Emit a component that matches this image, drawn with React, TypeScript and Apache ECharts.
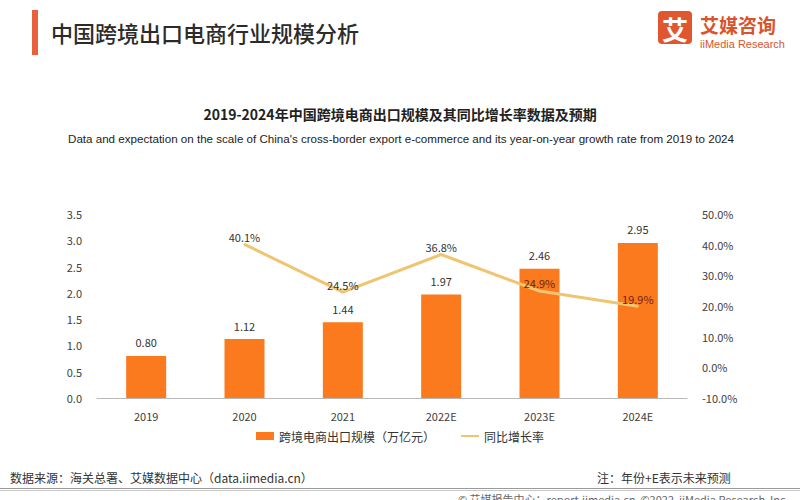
import React, { useEffect, useRef } from "react";
import * as echarts from "echarts";

const categories = ["2019", "2020", "2021", "2022E", "2023E", "2024E"];
const scaleValues = [0.8, 1.12, 1.44, 1.97, 2.46, 2.95];
const growthValues: (number | string)[] = ["-", 40.1, 24.5, 36.8, 24.9, 19.9];
const barName = "跨境电商出口规模（万亿元）";
const lineName = "同比增长率";

const CJK = '"Noto Sans CJK SC", "Noto Sans", sans-serif';

export default function App() {
  const ref = useRef<HTMLDivElement>(null);
  useEffect(() => {
    document.body.style.margin = "0";
    const chart = echarts.init(ref.current!, null, { renderer: "svg" });
    const lineData = growthValues.map((v, i) =>
      typeof v === "number" && scaleValues[i] * 52.6 > (v + 10) * 3.07 - 8
        ? { value: v, label: { color: "#6e2412" } }
        : v
    );
    chart.setOption({
      animation: false,
      backgroundColor: "#ffffff",
      textStyle: { fontFamily: CJK },
      grid: { left: 97, right: 113, top: 214, bottom: 102, containLabel: false },
      legend: {
        left: "center",
        top: 425,
        itemWidth: 18,
        itemHeight: 8,
        itemGap: 26,
        textStyle: { fontSize: 12, color: "#333", fontFamily: CJK },
        data: [
          { name: barName, icon: "rect" },
          { name: lineName, icon: "path://M0,0 L18,0 L18,2 L0,2 Z" },
        ],
      },
      xAxis: {
        type: "category",
        data: categories,
        axisLine: { lineStyle: { color: "#b8b8b8", width: 1 } },
        axisTick: { show: false },
        axisLabel: { color: "#404040", fontSize: 11, margin: 12 },
      },
      yAxis: [
        {
          type: "value",
          min: 0,
          max: 3.5,
          interval: 0.5,
          splitLine: { show: false },
          axisLine: { show: false },
          axisTick: { show: false },
          axisLabel: {
            color: "#404040",
            fontSize: 11,
            margin: 15,
            formatter: (v: number) => v.toFixed(1),
          },
        },
        {
          type: "value",
          min: -10,
          max: 50,
          interval: 10,
          splitLine: { show: false },
          axisLine: { show: false },
          axisTick: { show: false },
          axisLabel: {
            color: "#404040",
            fontSize: 11,
            margin: 15,
            formatter: (v: number) => v.toFixed(1) + "%",
          },
        },
      ],
      series: [
        {
          name: barName,
          type: "bar",
          data: scaleValues,
          barWidth: 40,
          itemStyle: { color: "#FC7A1E" },
          label: {
            show: true,
            position: "top",
            distance: 8,
            color: "#333",
            fontSize: 11,
            formatter: (p: any) => Number(p.value).toFixed(2),
          },
        },
        {
          name: lineName,
          type: "line",
          yAxisIndex: 1,
          data: lineData,
          symbol: "circle",
          symbolSize: 2,
          itemStyle: { color: "#EFC572" },
          lineStyle: { color: "#EFC572", width: 3 },
          label: {
            show: true,
            position: "top",
            distance: 1,
            color: "#333",
            fontSize: 11,
            formatter: (p: any) => Number(p.value).toFixed(1) + "%",
          },
        },
      ],
      graphic: [
        { type: "rect", shape: { x: 32, y: 10, width: 6, height: 45 }, style: { fill: "#E8603C" } },
        {
          type: "text",
          x: 51,
          y: 32,
          style: { text: "中国跨境出口电商行业规模分析", fontSize: 22, fill: "#2b2b2b", fontFamily: CJK, fontWeight: 500, verticalAlign: "middle" },
        },
        { type: "rect", shape: { x: 658, y: 11, width: 34, height: 33, r: 4 }, style: { fill: "#E0572F" } },
        {
          type: "text",
          x: 675,
          y: 28,
          style: { text: "艾", fontSize: 26, fill: "#ffffff", fontWeight: "bold", fontFamily: CJK, align: "center", verticalAlign: "middle" },
        },
        {
          type: "text",
          x: 700,
          y: 24,
          style: { text: "艾媒咨询", fontSize: 19, fill: "#D9542C", fontWeight: "bold", fontFamily: CJK, verticalAlign: "middle" },
        },
        {
          type: "text",
          x: 700,
          y: 44,
          style: { text: "iiMedia Research", fontSize: 11, fill: "#D9542C", fontFamily: "Liberation Sans, Arial, sans-serif", verticalAlign: "middle" },
        },
        {
          type: "text",
          x: 400,
          y: 114,
          style: { text: "2019-2024年中国跨境电商出口规模及其同比增长率数据及预期", fontSize: 14, fontWeight: "bold", fill: "#222", fontFamily: CJK, align: "center", verticalAlign: "middle" },
        },
        {
          type: "text",
          x: 401,
          y: 138,
          style: { text: "Data and expectation on the scale of China's cross-border export e-commerce and its year-on-year growth rate from 2019 to 2024", fontSize: 11.6, fill: "#222", fontFamily: "Liberation Sans, Arial, sans-serif", align: "center", verticalAlign: "middle" },
        },
        {
          type: "text",
          x: 10,
          y: 477,
          style: { text: "数据来源：海关总署、艾媒数据中心（data.iimedia.cn）", fontSize: 12, fill: "#333", fontFamily: CJK, verticalAlign: "middle" },
        },
        {
          type: "text",
          x: 597,
          y: 477,
          style: { text: "注：年份+E表示未来预测", fontSize: 12, fill: "#333", fontFamily: CJK, verticalAlign: "middle" },
        },
        { type: "rect", shape: { x: 0, y: 488, width: 800, height: 1 }, style: { fill: "#9a9a9a" } },
        { type: "rect", shape: { x: 0, y: 490, width: 800, height: 1 }, style: { fill: "#c8c8c8" } },
        {
          type: "text",
          x: 458,
          y: 493,
          style: { text: "© 艾媒报告中心：report.iimedia.cn  ©2022  iiMedia Research  Inc", fontSize: 11, fill: "#666", fontFamily: CJK, verticalAlign: "top" },
        },
      ],
    });
    return () => chart.dispose();
  }, []);
  return <div ref={ref} style={{ width: 800, height: 500 }} />;
}
